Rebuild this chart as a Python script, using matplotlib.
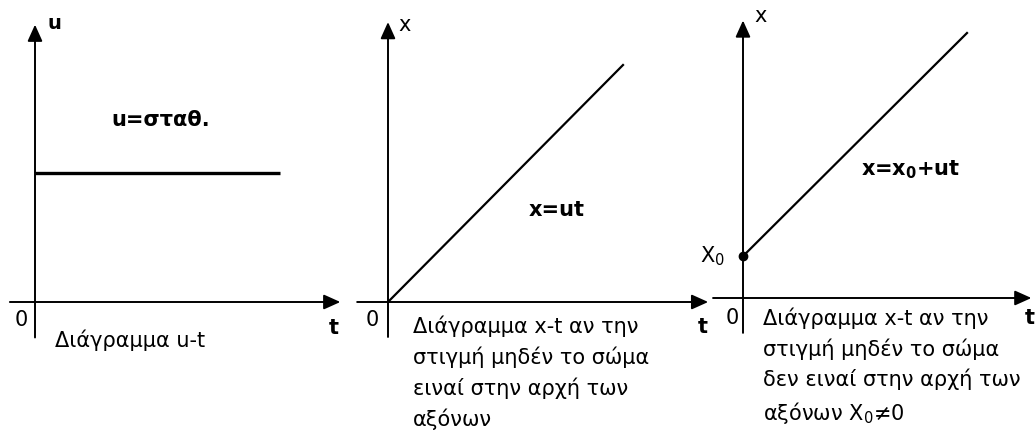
import matplotlib.pyplot as plt

# ευθύγραμμη ομαλή κίνηση: u-t και x-t διαγράμματα
t_end = 8.0
u_const = 4.0
t1 = [0.0, t_end]
u1 = [u_const, u_const]

t2 = [0.0, t_end]
x2 = [0.0, 8.0]

x0 = 1.5
u3 = 1.0
t3 = [0.0, t_end]
x3 = [x0 + u3 * t for t in t3]

captions = [
    "Διάγραμμα u-t",
    "Διάγραμμα x-t αν την\nστιγμή μηδέν το σώμα\nειναί στην αρχή των\nαξόνων",
    "Διάγραμμα x-t αν την\nστιγμή μηδέν το σώμα\nδεν ειναί στην αρχή των\nαξόνων X$_0$≠0",
]

W, H = 1036, 432
fig = plt.figure(figsize=(W / 100, H / 100), dpi=100)
plt.rcParams['font.family'] = ['DejaVu Sans']


def make_panel(box, origin, scale):
    # box/origin σε pixels, scale σε pixels ανά μονάδα
    L, T, R, B = box
    ox, oy = origin
    sx, sy = scale
    ax = fig.add_axes([L / W, 1 - B / H, (R - L) / W, (B - T) / H])
    ax.set_xlim((L - ox) / sx, (R - ox) / sx)
    ax.set_ylim((oy - B) / sy, (oy - T) / sy)
    ax.axis('off')
    return ax


def draw_axes(ax, xmin, xmax, ymin, ymax):
    arr = dict(arrowstyle='-|>,head_length=1.0,head_width=0.45', mutation_scale=10,
               lw=1.4, color='black', shrinkA=0, shrinkB=0)
    ax.annotate('', xy=(xmax, 0), xytext=(xmin, 0), arrowprops=arr, annotation_clip=False)
    ax.annotate('', xy=(0, ymax), xytext=(0, ymin), arrowprops=arr, annotation_clip=False)


fs = 15
fb = 15

# --- u-t ---
ax1 = make_panel((0, 0, 345, 432), (35, 302), (245 / t_end, 129 / u_const))
draw_axes(ax1, -0.82, 9.97, -1.1, 8.6)
ax1.plot(t1, u1, color='black', lw=2.4, solid_capstyle='butt')
ax1.text(0.4, 8.65, "u", fontsize=14, fontweight='bold', ha='left', va='center')
ax1.text(2.5, 5.65, "u=σταθ.", fontsize=fb, fontweight='bold', ha='left', va='center')
ax1.text(-0.45, -0.55, "0", fontsize=fs, ha='center', va='center')
ax1.text(9.75, -0.8, "t", fontsize=fb, fontweight='bold', ha='center', va='center')
ax1.text(0.65, -1.2, captions[0], fontsize=fs, ha='left', va='center')

# --- x-t, αρχή από το μηδέν ---
ax2 = make_panel((345, 0, 705, 432), (388, 302), (235 / t_end, 237 / 8.0))
draw_axes(ax2, -1.05, 10.9, -1.18, 9.45)
ax2.plot(t2, x2, color='black', lw=1.6)
ax2.text(0.35, 9.35, "x", fontsize=fs, ha='left', va='center')
ax2.text(4.8, 3.1, "x=ut", fontsize=fb, fontweight='bold', ha='left', va='center')
ax2.text(-0.55, -0.62, "0", fontsize=fs, ha='center', va='center')
ax2.text(10.7, -0.85, "t", fontsize=fb, fontweight='bold', ha='center', va='center', clip_on=False)
ax2.text(0.85, -0.45, captions[1], fontsize=fs, ha='left', va='top', linespacing=1.55)

# --- x-t, αρχή από x0 ---
ax3 = make_panel((705, 0, 1036, 432), (743, 298), (224 / t_end, 265 / x3[-1]))
draw_axes(ax3, -1.07, 10.3, -1.25, 9.95)
ax3.plot(t3, x3, color='black', lw=1.6)
ax3.plot([0], [x0], 'o', color='black', ms=6)
ax3.text(0.4, 10.1, "x", fontsize=fs, ha='left', va='center')
ax3.text(4.2, 4.6, "x=x$_\\mathbf{0}$+ut", fontsize=fb, fontweight='bold', ha='left', va='center')
ax3.text(-1.1, x0, "X$_0$", fontsize=fs, ha='center', va='center')
ax3.text(-0.4, -0.7, "0", fontsize=fs, ha='center', va='center')
ax3.text(10.25, -0.72, "t", fontsize=fb, fontweight='bold', ha='center', va='center')
ax3.text(0.72, -0.35, captions[2], fontsize=fs, ha='left', va='top', linespacing=1.5)

fig.savefig("out.png", dpi=100, facecolor='white')
